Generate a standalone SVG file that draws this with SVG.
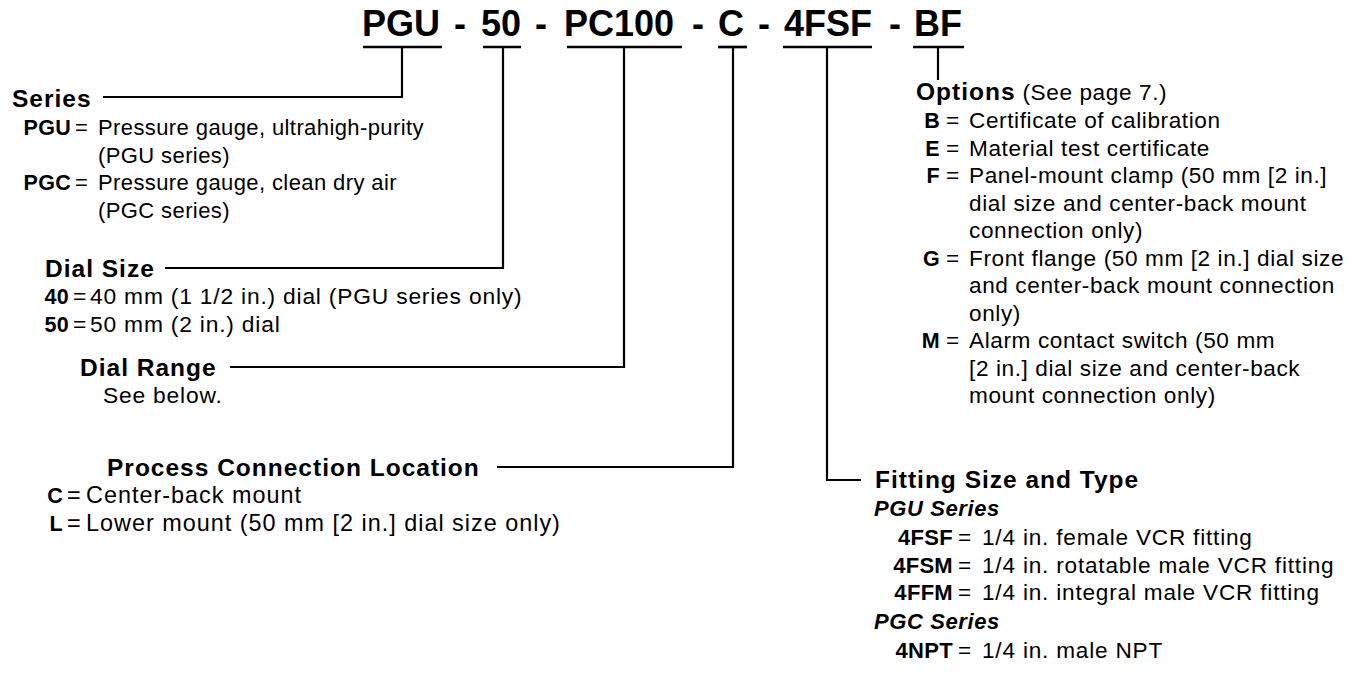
<svg xmlns="http://www.w3.org/2000/svg" width="1362" height="674" viewBox="0 0 1362 674">
<style>
text{font-family:"Liberation Sans",Arial,Helvetica,sans-serif;fill:#000}
.t{font-size:36px;font-weight:bold;text-anchor:middle}
.h{font-size:24.5px;font-weight:bold;letter-spacing:1px}
.b{font-size:22.6px;letter-spacing:0.6px}
.s{font-size:22px;letter-spacing:0.4px}
.d{font-size:22.8px;letter-spacing:0.8px}
.p{font-size:23.4px;letter-spacing:1px}
.f{font-size:22.6px;letter-spacing:0.8px}
.k{font-size:21.5px;font-weight:bold;letter-spacing:0.3px;text-anchor:end}
.kf{font-size:22px;font-weight:bold;letter-spacing:0.3px;text-anchor:end}
.i{font-size:22px;font-weight:bold;font-style:italic;letter-spacing:0.6px}
.u{stroke:#000;stroke-width:2.7;fill:none}
.c{stroke:#000;stroke-width:2.2;fill:none}
</style>
<rect width="1362" height="674" fill="#fff"/>
<g id="title">
<text class="t" x="401" y="36">PGU</text>
<text class="t" x="460" y="36">-</text>
<text class="t" x="501" y="36">50</text>
<text class="t" x="541" y="36">-</text>
<text class="t" x="619" y="36">PC100</text>
<text class="t" x="698" y="36">-</text>
<text class="t" x="731" y="36">C</text>
<text class="t" x="764" y="36">-</text>
<text class="t" x="828" y="36">4FSF</text>
<text class="t" x="895" y="36">-</text>
<text class="t" x="938" y="36">BF</text>
</g>
<g id="connectors">
<line class="u" x1="363" y1="47" x2="442" y2="47"/>
<line class="u" x1="483" y1="47" x2="521" y2="47"/>
<line class="u" x1="567" y1="47" x2="682" y2="47"/>
<line class="u" x1="718" y1="47" x2="747" y2="47"/>
<line class="u" x1="783" y1="47" x2="872" y2="47"/>
<line class="u" x1="913" y1="47" x2="964" y2="47"/>
<polyline class="c" points="402,47 402,97 103,97"/>
<polyline class="c" points="503,47 503,268 165,268"/>
<polyline class="c" points="624,47 624,367 230,367"/>
<polyline class="c" points="733,47 733,467 497,467"/>
<polyline class="c" points="827,47 827,480 861,480"/>
<line class="c" x1="938" y1="47" x2="938" y2="80"/>
</g>
<g id="series">
<text class="h" x="12" y="107">Series</text>
<text class="k" x="71" y="135">PGU</text><text class="s" x="75" y="135">=</text><text class="s" x="98" y="135">Pressure gauge, ultrahigh-purity</text>
<text class="s" x="98" y="162.5">(PGU series)</text>
<text class="k" x="71" y="190">PGC</text><text class="s" x="75" y="190">=</text><text class="s" x="98" y="190">Pressure gauge, clean dry air</text>
<text class="s" x="98" y="217.5">(PGC series)</text>
</g>
<g id="dial-size">
<text class="h" x="45" y="277">Dial Size</text>
<text class="k" x="69" y="304">40</text><text class="d" x="73" y="304">=</text><text class="d" x="90" y="304">40 mm (1 1/2 in.) dial (PGU series only)</text>
<text class="k" x="69" y="331.5">50</text><text class="d" x="73" y="331.5">=</text><text class="d" x="90" y="331.5">50 mm (2 in.) dial</text>
</g>
<g id="dial-range">
<text class="h" x="80" y="376">Dial Range</text>
<text class="d" x="103" y="403">See below.</text>
</g>
<g id="process-connection">
<text class="h" x="107" y="476">Process Connection Location</text>
<text class="k" x="63" y="503">C</text><text class="p" x="67" y="503">=</text><text class="p" x="86" y="503">Center-back mount</text>
<text class="k" x="63" y="530.5">L</text><text class="p" x="67" y="530.5">=</text><text class="p" x="86" y="530.5">Lower mount (50 mm [2 in.] dial size only)</text>
</g>
<g id="options">
<text x="916" y="100"><tspan class="h">Options</tspan><tspan class="b"> (See page 7.)</tspan></text>
<text class="k" x="940" y="128">B</text><text class="b" x="946" y="128">=</text><text class="b" x="969" y="128">Certificate of calibration</text>
<text class="k" x="940" y="155.5">E</text><text class="b" x="946" y="155.5">=</text><text class="b" x="969" y="155.5">Material test certificate</text>
<text class="k" x="940" y="183">F</text><text class="b" x="946" y="183">=</text><text class="b" x="969" y="183">Panel-mount clamp (50 mm [2 in.]</text>
<text class="b" x="969" y="210.5">dial size and center-back mount</text>
<text class="b" x="969" y="238">connection only)</text>
<text class="k" x="940" y="265.5">G</text><text class="b" x="946" y="265.5">=</text><text class="b" x="969" y="265.5">Front flange (50 mm [2 in.] dial size</text>
<text class="b" x="969" y="293">and center-back mount connection</text>
<text class="b" x="969" y="320.5">only)</text>
<text class="k" x="940" y="348">M</text><text class="b" x="946" y="348">=</text><text class="b" x="969" y="348">Alarm contact switch (50 mm</text>
<text class="b" x="969" y="375.5">[2 in.] dial size and center-back</text>
<text class="b" x="969" y="403">mount connection only)</text>
</g>
<g id="fitting">
<text class="h" x="875" y="488">Fitting Size and Type</text>
<text class="i" x="874" y="516">PGU Series</text>
<text class="kf" x="953" y="545">4FSF</text><text class="f" x="958" y="545">=</text><text class="f" x="982" y="545">1/4 in. female VCR fitting</text>
<text class="kf" x="953" y="572.5">4FSM</text><text class="f" x="958" y="572.5">=</text><text class="f" x="982" y="572.5">1/4 in. rotatable male VCR fitting</text>
<text class="kf" x="953" y="600">4FFM</text><text class="f" x="958" y="600">=</text><text class="f" x="982" y="600">1/4 in. integral male VCR fitting</text>
<text class="i" x="874" y="629">PGC Series</text>
<text class="kf" x="953" y="658">4NPT</text><text class="f" x="958" y="658">=</text><text class="f" x="982" y="658">1/4 in. male NPT</text>
</g>
</svg>
